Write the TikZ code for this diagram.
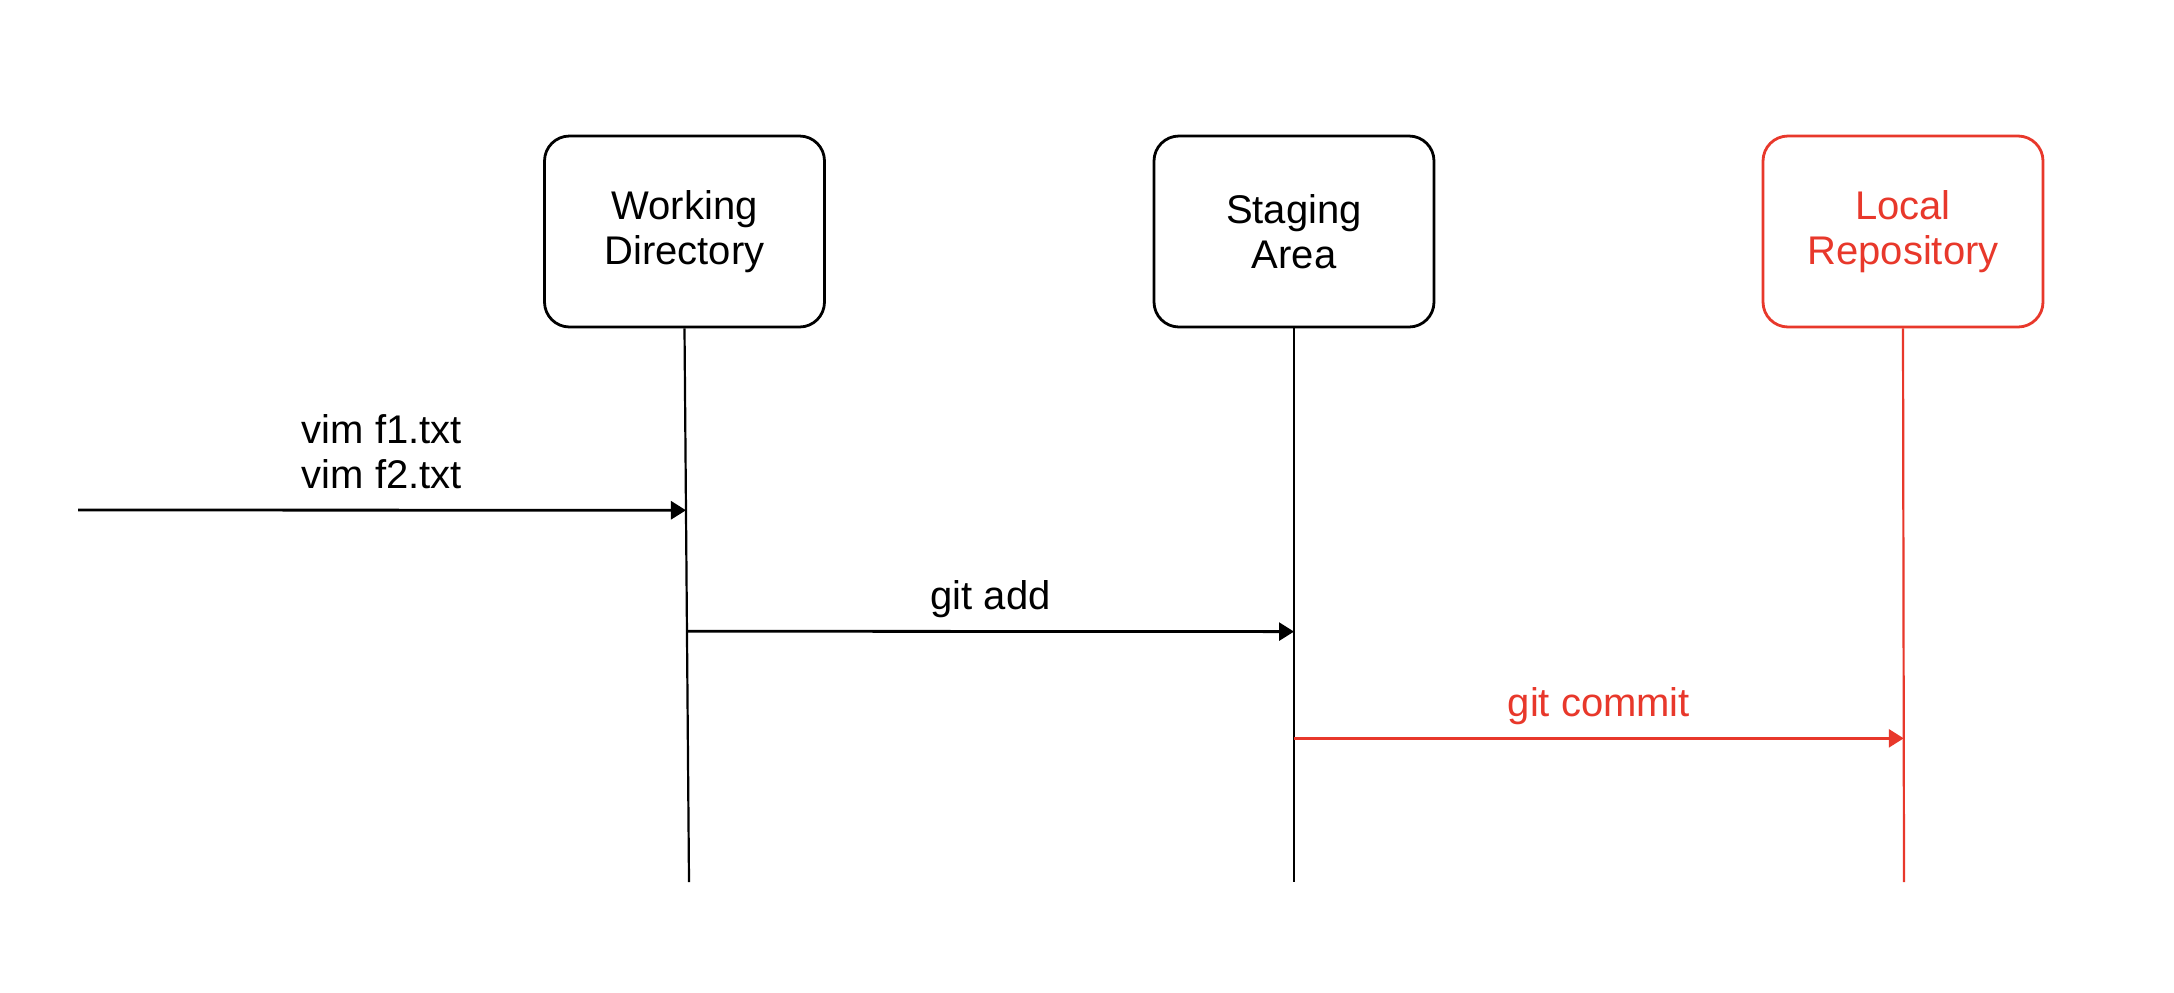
\documentclass[tikz,border=0pt]{standalone}
\usepackage{fontspec}
\setmainfont{Liberation Sans}
\usetikzlibrary{arrows.meta}
\definecolor{gitred}{HTML}{E8382B}
\begin{document}
\begin{tikzpicture}[x=0.5pt,y=-0.5pt,
  lane/.style={draw, line width=1.4pt, rounded corners=12.5pt, minimum width=140pt,
    minimum height=95.5pt, inner sep=0pt, align=center,
    font=\fontsize{20}{22.5}\selectfont},
  lifeline/.style={line width=1.1pt},
  msg/.style={line width=1.4pt, -{Triangle[length=7.5pt,width=9pt]}},
  msglabel/.style={midway, anchor=base, yshift=11pt, align=center,
    font=\fontsize{20}{22.5}\selectfont}
]
\fill[white] (0,0) rectangle (2174,992);
\useasboundingbox (0,0) rectangle (2174,992);

\node[lane] (wd) at (684.5,231.5) {Working\\Directory};
\node[lane] (sa) at (1294,231.5) {Staging\\Area};
\node[lane, draw=gitred, text=gitred] (lr) at (1903,231.5) {Local\\Repository};

\coordinate (wdend) at (689,882);
\coordinate (saend) at (1294,882);
\coordinate (lrend) at (1904,882);
\coordinate (vimstart) at (78,510);

\draw[lifeline] (wd.south) -- (wdend) coordinate[pos=0.3285] (wdA) coordinate[pos=0.547] (wdB);
\draw[lifeline] (sa.south) -- (saend) coordinate[pos=0.5477] (saB) coordinate[pos=0.7405] (saC);
\draw[lifeline, gitred] (lr.south) -- (lrend) coordinate[pos=0.7405] (lrC);

\draw[msg] (vimstart) -- (wdA) node[msglabel] {vim f1.txt\\vim f2.txt};
\draw[msg] (wdB) -- (saB) node[msglabel] {git add};
\draw[msg, gitred] (saC) -- (lrC) node[msglabel, text=gitred] {git commit};
\end{tikzpicture}
\end{document}
